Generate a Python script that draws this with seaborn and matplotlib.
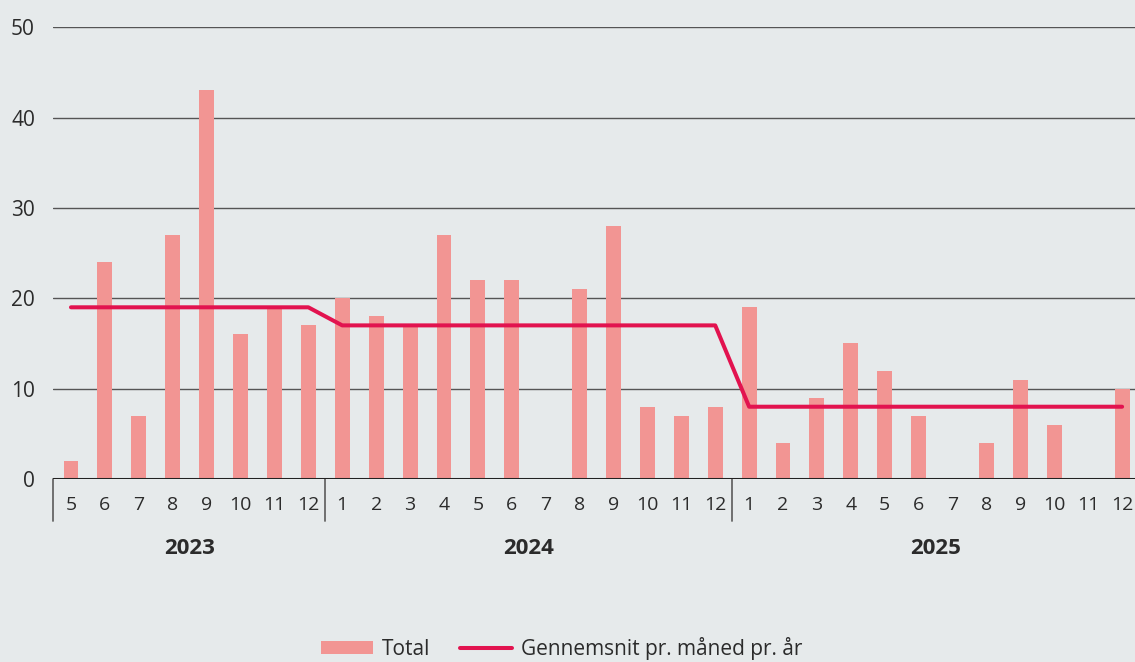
import numpy as np
import pandas as pd
import matplotlib
matplotlib.use("Agg")
import matplotlib.pyplot as plt
import seaborn as sns

# data
years = [2023, 2024, 2025]
months_2023 = [5, 6, 7, 8, 9, 10, 11, 12]
months_2024 = list(range(1, 13))
months_2025 = list(range(1, 13))
total_2023 = [2, 24, 7, 27, 43, 16, 19, 17]
total_2024 = [20, 18, 17, 27, 22, 22, 0, 21, 28, 8, 7, 8]
total_2025 = [19, 4, 9, 15, 12, 7, 0, 4, 11, 6, 0, 10]
avg_per_year = [19, 17, 8]

months = months_2023 + months_2024 + months_2025
totals = total_2023 + total_2024 + total_2025
year_col = [2023] * len(months_2023) + [2024] * len(months_2024) + [2025] * len(months_2025)
df = pd.DataFrame({"pos": np.arange(len(months)), "month": months,
                   "total": totals, "year": year_col})
df["avg"] = df["year"].map(dict(zip(years, avg_per_year)))

bg = "#e6eaeb"
bar_col = "#f29593"
line_col = "#e2134f"
txt_col = "#2b2b2b"

sns.set_theme(style="white")
plt.rcParams["font.family"] = ["Open Sans", "DejaVu Sans"]

fig = plt.figure(figsize=(11.35, 6.62), dpi=100, facecolor=bg)
ax = fig.add_axes([0.0467, 0.2764, 0.9533, 0.6826])
ax.set_facecolor(bg)

sns.barplot(data=df, x="pos", y="total", native_scale=True, color=bar_col,
            saturation=1, width=0.44, linewidth=0, ax=ax, label="Total")
sns.lineplot(data=df, x="pos", y="avg", color=line_col, linewidth=2.9, ax=ax,
             label="Gennemsnit pr. måned pr. år", solid_capstyle="round")

ax.set_xlim(-0.53, len(months) - 1 + 0.38)
ax.set_ylim(0, 50)
ax.set_yticks(range(0, 51, 10))
ax.yaxis.grid(True, color="#555555", linewidth=1)
ax.set_axisbelow(True)
for s in ax.spines.values():
    s.set_visible(False)
ax.axhline(0, color="#222222", linewidth=2.2, zorder=5)

ax.set_xticks(df["pos"])
ax.set_xticklabels(df["month"])
ax.tick_params(axis="x", length=0, pad=12, labelsize=14, colors=txt_col)
ax.tick_params(axis="y", length=0, pad=13, labelsize=15, colors=txt_col)
ax.set_xlabel("")
ax.set_ylabel("")

# year separators and year labels
trans = ax.get_xaxis_transform()
starts = [0, len(months_2023), len(months_2023) + len(months_2024)]
ends = [len(months_2023), len(months_2023) + len(months_2024), len(months)]
for yr, s, e in zip(years, starts, ends):
    xs = -0.53 if s == 0 else s - 0.5
    ax.plot([xs, xs], [0, -0.092], transform=trans, color="#666666",
            linewidth=1.3, clip_on=False)
    ax.text((s + e - 1) / 2, -0.153, str(yr), transform=trans, ha="center",
            va="center", fontsize=16, fontweight="bold", color=txt_col)

handles, labels = ax.get_legend_handles_labels()
order = [labels.index("Total"), labels.index("Gennemsnit pr. måned pr. år")]
ax.legend([handles[i] for i in order], [labels[i] for i in order],
          loc="center", bbox_to_anchor=(0.47, -0.375), ncol=2,
          frameon=False, fontsize=15, handlelength=2.5, handleheight=0.6,
          handletextpad=0.4, columnspacing=1.45, labelcolor=txt_col,
          borderaxespad=0, borderpad=0.2)

fig.savefig("out.png", dpi=100, facecolor=bg)
